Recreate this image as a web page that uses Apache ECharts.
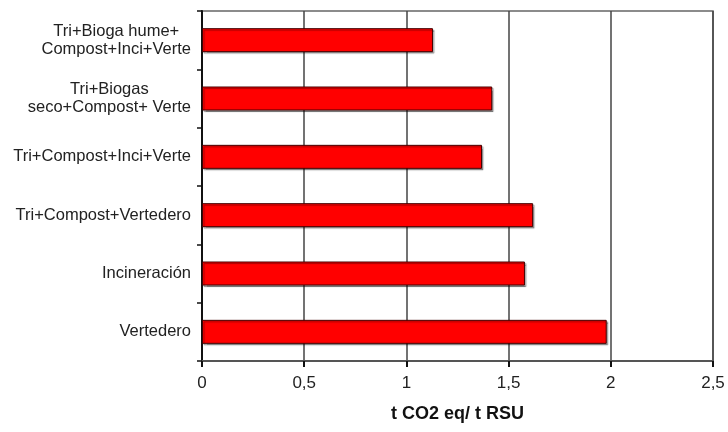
<!DOCTYPE html>
<html>
<head>
<meta charset="utf-8">
<script src="https://cdn.jsdelivr.net/npm/echarts@6/dist/echarts.min.js"></script>
<style>html,body{margin:0;padding:0;background:#fff}#c{width:728px;height:432px}</style>
</head>
<body>
<div id="c"></div>
<script>
const categories = [
  "Tri+Bioga hume+\nCompost+Inci+Verte",
  "Tri+Biogas\nseco+Compost+ Verte",
  "Tri+Compost+Inci+Verte",
  "Tri+Compost+Vertedero",
  "Incineración",
  "Vertedero"
];
const values = [1.13, 1.42, 1.37, 1.62, 1.58, 1.98];
const xTicks = ["0", "0,5", "1", "1,5", "2", "2,5"];
const xName = "t CO2 eq/ t RSU";

const FONT = 'Liberation Sans, Arial, sans-serif';
const chart = echarts.init(document.getElementById('c'), null, {renderer: 'canvas'});
chart.setOption({
  animation: false,
  backgroundColor: '#fff',
  grid: {left: 202, right: 15, top: 11, bottom: 71, show: true, borderColor: '#666', borderWidth: 1.5, containLabel: false},
  xAxis: {
    type: 'value', min: 0, max: 2.5, interval: 0.5,
    name: xName, nameLocation: 'middle', nameGap: 44,
    nameTextStyle: {fontFamily: FONT, fontSize: 18, fontWeight: 'bold', color: '#111'},
    axisLine: {show: true, lineStyle: {color: '#555', width: 2}},
    axisTick: {show: true, length: 6, lineStyle: {color: '#111', width: 2}},
    axisLabel: {margin: 14, fontFamily: FONT, fontSize: 17, color: '#222',
      formatter: function (v) { return xTicks[Math.round(v / 0.5)]; }},
    splitLine: {show: true, lineStyle: {color: '#444', width: 1.5}}
  },
  yAxis: {
    type: 'category', data: categories, inverse: true,
    axisLine: {show: true, lineStyle: {color: '#111', width: 2}},
    axisTick: {show: true, length: 5, lineStyle: {color: '#111', width: 1.5}},
    axisLabel: {margin: 11, fontFamily: FONT, fontSize: 16.5, color: '#222', lineHeight: 18,
      formatter: function (v) { return v.split('\n').map(function (s) { return '{c|' + s + '}'; }).join('\n'); },
      rich: {c: {align: 'center', fontFamily: FONT, fontSize: 16.5, color: '#222', lineHeight: 18}}}
  },
  series: [{
    type: 'bar', data: values, barWidth: 24,
    itemStyle: {color: '#ff0000', borderColor: '#400', borderWidth: 1,
      shadowColor: 'rgba(0,0,0,0.35)', shadowOffsetX: 1.5, shadowOffsetY: 1.5, shadowBlur: 1}
  }]
});
</script>
</body>
</html>
